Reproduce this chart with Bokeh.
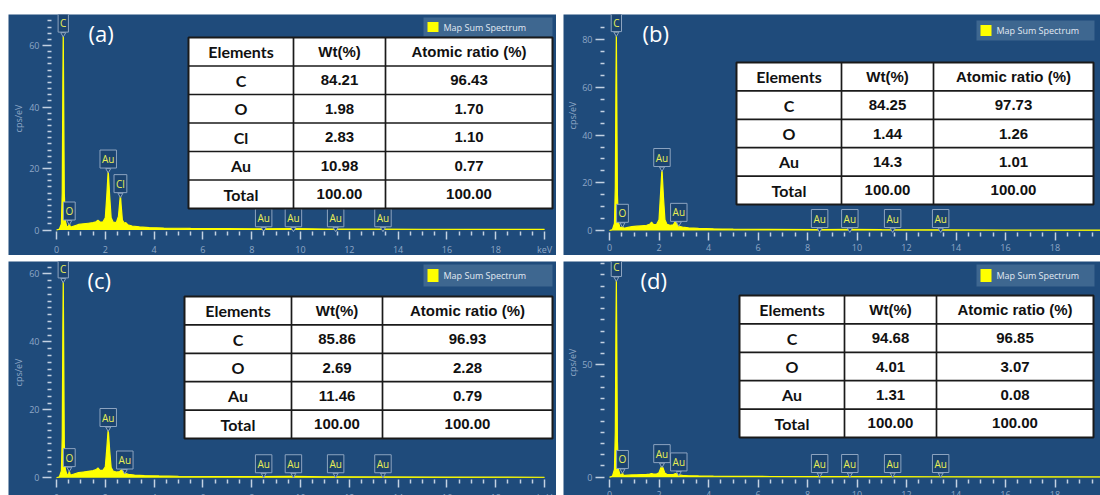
import math
from bokeh.plotting import figure
from bokeh.models import Range1d, FixedTicker, Spacer
from bokeh.layouts import row, column
from bokeh.embed import file_html
from bokeh.resources import INLINE
from bokeh.core.properties import value

# ---------------- data ----------------
energy_a = [0.00, 0.12, 0.20, 0.235, 0.26, 0.277, 0.295, 0.32, 0.36, 0.42, 0.49, 0.525, 0.56, 0.62,
            0.75, 0.90, 1.10, 1.30, 1.50, 1.62, 1.70, 1.78, 1.90, 2.00, 2.06, 2.12, 2.18, 2.24,
            2.32, 2.45, 2.54, 2.59, 2.62, 2.65, 2.70, 2.78, 2.84, 2.92, 3.10, 3.40, 3.80, 4.40,
            5.50, 7.00, 8.50, 9.70, 11.0, 13.0, 15.0, 17.0, 20.0]
counts_a = [0.0, 0.3, 2.0, 12.0, 48.0, 65.0, 42.0, 12.0, 3.0, 1.2, 1.0, 2.4, 1.1, 1.0,
            1.4, 1.8, 2.0, 2.2, 2.4, 2.7, 3.2, 2.6, 2.6, 4.0, 11.0, 19.5, 11.0, 4.0,
            2.6, 2.4, 4.5, 9.0, 11.5, 8.0, 3.2, 2.2, 2.4, 1.7, 1.3, 1.0, 0.8, 0.65,
            0.5, 0.42, 0.38, 0.45, 0.33, 0.28, 0.24, 0.2, 0.18]

energy_b = [0.00, 0.12, 0.20, 0.235, 0.26, 0.277, 0.295, 0.32, 0.36, 0.42, 0.49, 0.525, 0.56, 0.62,
            0.75, 0.90, 1.10, 1.30, 1.50, 1.62, 1.70, 1.78, 1.90, 2.00, 2.06, 2.12, 2.18, 2.24,
            2.32, 2.45, 2.58, 2.64, 2.68, 2.72, 2.80, 2.95, 3.20, 3.60, 4.20, 5.00, 6.50, 8.50,
            9.70, 11.0, 13.0, 16.0, 20.0]
counts_b = [0.0, 0.4, 3.0, 18.0, 62.0, 84.0, 55.0, 15.0, 3.5, 1.3, 1.0, 2.0, 1.0, 1.0,
            1.3, 1.6, 1.8, 2.0, 2.2, 2.6, 3.5, 2.5, 2.5, 4.5, 15.0, 26.0, 14.0, 4.5,
            2.6, 2.2, 2.4, 3.5, 4.0, 3.2, 1.8, 1.4, 1.1, 0.9, 0.7, 0.55, 0.45, 0.4,
            0.5, 0.35, 0.3, 0.22, 0.18]

energy_c = energy_b
counts_c = [0.0, 0.3, 2.0, 12.0, 44.0, 59.0, 38.0, 10.0, 2.5, 1.1, 0.9, 2.0, 0.9, 0.9,
            1.2, 1.5, 1.7, 1.9, 2.1, 2.4, 2.9, 2.2, 2.2, 3.2, 8.5, 14.5, 8.0, 3.0,
            2.0, 1.7, 1.8, 2.2, 2.4, 2.0, 1.3, 1.0, 0.8, 0.65, 0.55, 0.45, 0.38, 0.33,
            0.4, 0.3, 0.25, 0.2, 0.16]

energy_d = energy_b
counts_d = [0.0, 0.5, 3.5, 20.0, 68.0, 89.0, 60.0, 16.0, 3.5, 1.2, 0.9, 2.0, 0.9, 0.8,
            0.9, 1.0, 1.1, 1.2, 1.3, 1.4, 1.6, 1.4, 1.4, 2.0, 3.8, 5.3, 3.6, 1.8,
            1.3, 1.2, 1.2, 1.5, 1.6, 1.4, 1.0, 0.8, 0.65, 0.55, 0.45, 0.38, 0.32, 0.28,
            0.32, 0.25, 0.2, 0.16, 0.13]

x_tick_values = [0, 2, 4, 6, 8, 10, 12, 14, 16, 18, 20]
x_tick_labels = ["0", "2", "4", "6", "8", "10", "12", "14", "16", "18", "keV"]

y_ticks_a = [0, 20, 40, 60]
y_ticks_b = [0, 20, 40, 60, 80]
y_ticks_c = [0, 20, 40, 60]
y_ticks_d = [0, 50]

peak_names_a = ["C", "O", "Au", "Cl", "Au", "Au", "Au", "Au"]
peak_kev_a = [0.277, 0.525, 2.12, 2.62, 8.49, 9.71, 11.44, 13.38]
peak_top_a = [63.7, 2.6, 19.5, 11.5, 0.4, 0.4, 0.4, 0.4]

peak_names_b = ["C", "O", "Au", "Au", "Au", "Au", "Au", "Au"]
peak_kev_b = [0.277, 0.525, 2.12, 2.80, 8.49, 9.71, 11.44, 13.38]
peak_top_b = [82.6, 2.6, 26, 3.0, 0.4, 0.4, 0.4, 0.4]

peak_names_c = ["C", "O", "Au", "Au", "Au", "Au", "Au", "Au"]
peak_kev_c = [0.277, 0.525, 2.12, 2.80, 8.49, 9.71, 11.44, 13.38]
peak_top_c = [58.2, 2.7, 14.5, 2.0, 0.9, 0.9, 0.9, 0.9]

peak_names_d = ["C", "O", "Au", "Au", "Au", "Au", "Au", "Au"]
peak_kev_d = [0.277, 0.525, 2.12, 2.80, 8.49, 9.71, 11.44, 13.38]
peak_top_d = [88.4, 3.0, 5.6, 1.9, 1.2, 1.2, 1.2, 1.2]

table_header = ["Elements", "Wt(%)", "Atomic ratio (%)"]
elements_a = ["C", "O", "Cl", "Au", "Total"]
wt_a = ["84.21", "1.98", "2.83", "10.98", "100.00"]
at_a = ["96.43", "1.70", "1.10", "0.77", "100.00"]
elements_b = ["C", "O", "Au", "Total"]
wt_b = ["84.25", "1.44", "14.3", "100.00"]
at_b = ["97.73", "1.26", "1.01", "100.00"]
elements_c = ["C", "O", "Au", "Total"]
wt_c = ["85.86", "2.69", "11.46", "100.00"]
at_c = ["96.93", "2.28", "0.79", "100.00"]
elements_d = ["C", "O", "Au", "Total"]
wt_d = ["94.68", "4.01", "1.31", "100.00"]
at_d = ["96.85", "3.07", "0.08", "100.00"]

# ---------------- styles ----------------
BG = "#1f4b7b"
LEG = "#3e6790"
TICK = "#c3d1e2"
TICKLAB = "#8ea7c6"
YEL = "#ffff00"
BOX_FILL = "#1b436f"
BOX_LINE = "#8da4c0"
PEAK_TXT = "#e9ef55"
UI_FONT = "Open Sans"


def make_panel(cfg, energy, counts, yticks, yminor, names, kev, tops, tag,
               elements, wt, at):
    W, H = cfg["W"], cfg["H"]
    x0, kx, y0, ky = cfg["x0"], cfg["kx"], cfg["y0"], cfg["ky"]
    p = figure(width=W, height=H, output_backend="svg", toolbar_location=None,
               x_range=Range1d((0 - x0) / kx, (W - x0) / kx),
               y_range=Range1d((y0 - H) / ky, y0 / ky))
    p.min_border_left = p.min_border_right = 0
    p.min_border_top = p.min_border_bottom = 0
    p.background_fill_color = BG
    p.border_fill_color = BG
    p.outline_line_color = None
    p.grid.visible = False
    p.extra_x_ranges = {"px": Range1d(0, W)}
    p.extra_y_ranges = {"px": Range1d(H, 0)}
    PX = dict(x_range_name="px", y_range_name="px")

    # spectrum
    p.varea(x=energy, y1=0, y2=counts, fill_color=YEL, fill_alpha=1.0)
    p.line(x=energy, y=counts, line_color=YEL, line_width=1.2)

    # axes
    xa = p.xaxis[0]
    xa.fixed_location = (y0 - cfg["axx"]) / ky
    xa.ticker = FixedTicker(ticks=x_tick_values,
                            minor_ticks=[i * 0.5 for i in range(41) if i % 4 != 0])
    xa.major_label_overrides = {v: l for v, l in zip(x_tick_values, x_tick_labels)}
    xa.major_tick_out = 8
    xa.minor_tick_out = 4
    xa.major_label_standoff = 3
    ya = p.yaxis[0]
    ya.fixed_location = (cfg["axy"] - x0) / kx
    ya.ticker = FixedTicker(ticks=yticks, minor_ticks=yminor)
    ya.major_tick_out = 9
    ya.minor_tick_out = 4
    ya.major_label_standoff = 3
    for ax in (xa, ya):
        ax.axis_line_color = None
        ax.major_tick_in = 0
        ax.minor_tick_in = 0
        ax.major_tick_line_color = TICK
        ax.minor_tick_line_color = TICK
        ax.major_tick_line_width = 1.5
        ax.minor_tick_line_width = 1.5
        ax.major_label_text_color = TICKLAB
        ax.major_label_text_font = UI_FONT
        ax.major_label_text_font_size = "9px"

    p.text(x=[cfg["ylab"][0]], y=[cfg["ylab"][1]], text=["cps/eV"], angle=math.pi / 2,
           text_align="center", text_baseline="middle", text_color=TICKLAB,
           text_font=value(UI_FONT), text_font_size="9px", **PX)

    # peak labels
    p.scatter(x=kev, y=tops, marker="inverted_triangle", size=5,
              fill_color=BOX_FILL, line_color=BOX_LINE, line_width=1)
    p.text(x=kev, y=tops, text=names, text_align="center", text_baseline="bottom",
           y_offset=-2, text_color=PEAK_TXT, text_font=value(UI_FONT),
           text_font_size="10px", background_fill_color=BOX_FILL,
           border_line_color=BOX_LINE, border_line_width=1, padding=2)

    # legend box
    lx0, ly0, lx1, ly1 = cfg["leg"]
    p.quad(left=[lx0], right=[lx1], top=[ly0], bottom=[ly1], fill_color=LEG,
           line_color=None, **PX)
    p.quad(left=[lx0 + 4], right=[lx0 + 15], top=[ly0 + 4.5], bottom=[ly1 - 4.5],
           fill_color=YEL, line_color=None, **PX)
    p.text(x=[lx0 + 20], y=[(ly0 + ly1) / 2], text=["Map Sum Spectrum"],
           text_baseline="middle", text_align="left", text_color="#e2e9f2",
           text_font=value(UI_FONT), text_font_size="9px", **PX)

    # panel tag
    p.text(x=[cfg["tag"][0]], y=[cfg["tag"][1]], text=[tag], text_baseline="middle",
           text_align="left", text_color="white", text_font=value(UI_FONT),
           text_font_size="22px", **PX)

    # table
    tx0, ty0, tx1, ty1 = cfg["tab"]
    s1, s2 = cfg["splits"]
    n = len(elements) + 1
    rh = (ty1 - ty0) / n
    p.quad(left=[tx0], right=[tx1], top=[ty0], bottom=[ty1], fill_color="white",
           line_color="#1a1a1a", line_width=2, **PX)
    hy = [ty0 + i * rh for i in range(1, n)]
    p.segment(x0=[tx0] * len(hy), y0=hy, x1=[tx1] * len(hy), y1=hy,
              line_color="#1a1a1a", line_width=1.7, **PX)
    p.segment(x0=[s1, s2], y0=[ty0, ty0], x1=[s1, s2], y1=[ty1, ty1],
              line_color="#1a1a1a", line_width=1.7, **PX)
    cy = [ty0 + (i + 0.5) * rh for i in range(n)]
    c1, c2, c3 = (tx0 + s1) / 2, (s1 + s2) / 2, (s2 + tx1) / 2
    p.text(x=[c1] * n, y=cy, text=[table_header[0]] + elements, text_align="center",
           text_baseline="middle", text_color="#111111", text_font=value("Lato"),
           text_font_style="bold", text_font_size="16px", **PX)
    p.text(x=[c2] * n + [c3] * n, y=cy + cy,
           text=[table_header[1]] + wt + [table_header[2]] + at,
           text_align="center", text_baseline="middle", text_color="#111111",
           text_font=value("Liberation Sans"), text_font_style="bold",
           text_font_size="15px", **PX)
    return p


cfg_a = dict(W=548, H=241, x0=48, kx=24.4, y0=215.5, ky=3.075, axx=217, axy=43,
             ylab=(10, 104), leg=(415, 3, 544, 22), tag=(80, 18),
             tab=(180, 23, 544, 194), splits=(285, 377))
cfg_b = dict(W=537, H=241, x0=46, kx=24.75, y0=216, ky=2.384, axx=218, axy=41,
             ylab=(9, 101), leg=(413, 6, 531, 26), tag=(79, 18),
             tab=(173, 48, 530, 190), splits=(278, 370))
cfg_c = dict(W=548, H=234, x0=48, kx=24.4, y0=216.3, ky=3.4, axx=218, axy=43,
             ylab=(10, 111), leg=(415, 3, 544, 25), tag=(79, 18),
             tab=(176, 35, 544, 177), splits=(283, 374))
cfg_d = dict(W=537, H=234, x0=46, kx=24.75, y0=215.7, ky=2.248, axx=218, axy=41,
             ylab=(9, 101), leg=(413, 3, 531, 25), tag=(77, 18),
             tab=(176, 34, 530, 176), splits=(281, 373))

minor_a = [v for v in range(2, 70, 2) if v % 20 != 0]
minor_b = [v for v in range(5, 90, 5) if v % 20 != 0]
minor_c = [v for v in range(2, 64, 2) if v % 20 != 0]
minor_d = [v for v in range(5, 96, 5) if v % 50 != 0]

pa = make_panel(cfg_a, energy_a, counts_a, y_ticks_a, minor_a, peak_names_a, peak_kev_a,
                peak_top_a, "(a)", elements_a, wt_a, at_a)
pb = make_panel(cfg_b, energy_b, counts_b, y_ticks_b, minor_b, peak_names_b, peak_kev_b,
                peak_top_b, "(b)", elements_b, wt_b, at_b)
pc = make_panel(cfg_c, energy_c, counts_c, y_ticks_c, minor_c, peak_names_c, peak_kev_c,
                peak_top_c, "(c)", elements_c, wt_c, at_c)
pd = make_panel(cfg_d, energy_d, counts_d, y_ticks_d, minor_d, peak_names_d, peak_kev_d,
                peak_top_d, "(d)", elements_d, wt_d, at_d)

layout = column(
    Spacer(width=1100, height=14),
    row(Spacer(width=8, height=241), pa, Spacer(width=7, height=241), pb),
    Spacer(width=1100, height=6),
    row(Spacer(width=8, height=234), pc, Spacer(width=7, height=234), pd),
)

open("out.html", "w").write(file_html(layout, INLINE))
